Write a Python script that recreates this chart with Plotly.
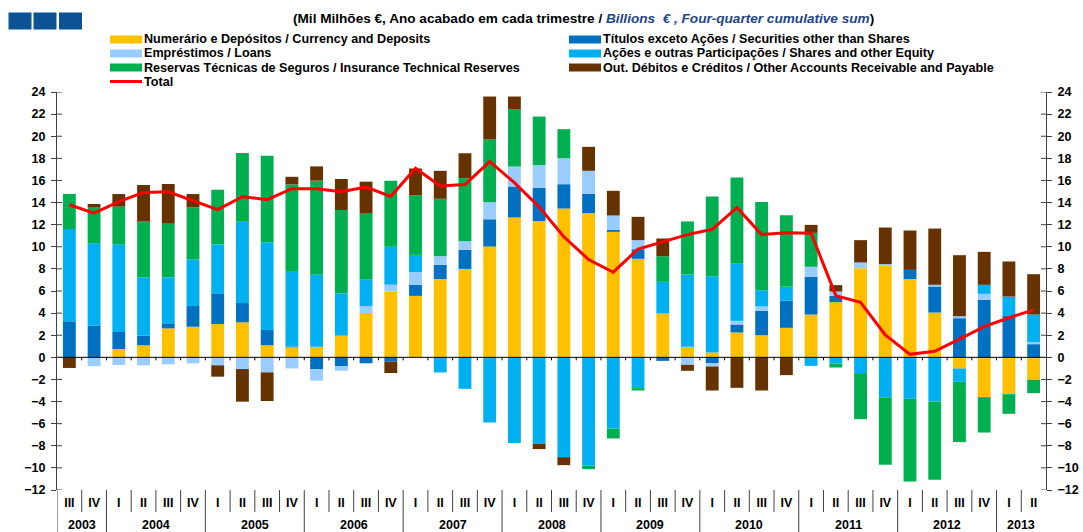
import plotly.graph_objects as go

periods = ["2003 III", "2003 IV",
           "2004 I", "2004 II", "2004 III", "2004 IV",
           "2005 I", "2005 II", "2005 III", "2005 IV",
           "2006 I", "2006 II", "2006 III", "2006 IV",
           "2007 I", "2007 II", "2007 III", "2007 IV",
           "2008 I", "2008 II", "2008 III", "2008 IV",
           "2009 I", "2009 II", "2009 III", "2009 IV",
           "2010 I", "2010 II", "2010 III", "2010 IV",
           "2011 I", "2011 II", "2011 III", "2011 IV",
           "2012 I", "2012 II", "2012 III", "2012 IV",
           "2013 I", "2013 II"]
quarter_labels = [p.split(" ")[1] for p in periods]
year_of_period = [p.split(" ")[0] for p in periods]
year_labels = ["2003", "2004", "2005", "2006", "2007", "2008", "2009", "2010", "2011", "2012", "2013"]

currency = [0, 0, 0.75, 1.09, 2.62, 2.77, 3.01, 3.17, 1.09, 0.9,
            0.96, 1.96, 4.01, 5.94, 5.56, 7.07, 8.0, 10.02, 12.65, 12.32,
            13.46, 13.04, 11.35, 8.91, 3.96, 0.95, 0.44, 2.25, 2.0, 2.67,
            3.87, 4.99, 8.06, 8.28, 7.07, 4.05, -1.01, -3.6, -3.33, -2.03]
securities = [3.26, 2.86, 1.54, 0.87, 0.46, 1.87, 2.78, 1.74, 1.38, 0.05,
              -1.06, -0.81, -0.54, -0.39, 1.0, 1.3, 1.72, 2.47, 2.8, 3.01,
              2.2, 1.75, 0.18, 0.87, -0.32, 0, -0.53, 0.72, 2.21, 2.44,
              3.41, 0.57, 0, 0, 0.84, 2.36, 3.54, 5.2, 3.75, 1.19]
loans = [0, -0.8, -0.69, -0.72, -0.63, -0.54, -0.72, -1.06, -1.36, -1.0,
         -1.05, -0.4, 0.63, 0.63, 1.15, 0.78, 0.78, 1.54, 1.81, 2.05,
         2.35, 2.08, 1.3, 0.82, 0, -0.68, -0.3, 0.33, 0.39, 0,
         0.91, 0.39, 0.52, 0.15, 0, 0.15, 0.18, 0.54, 0, 0.18]
shares = [8.35, 7.45, 7.93, 5.28, 4.16, 4.22, 4.43, 7.36, 7.93, 6.85,
          6.52, 3.83, 2.41, 3.44, 1.56, -1.37, -2.85, -5.89, -7.76, -7.82,
          -9.03, -9.81, -6.44, -2.79, 2.87, 6.54, 6.9, 5.16, 1.47, 1.27,
          -0.77, -0.56, -1.43, -3.6, -3.75, -3.99, -1.2, 0.82, 1.75, 2.5]
insurance = [3.17, 3.23, 3.41, 5.09, 4.85, 4.71, 4.94, 6.21, 7.84, 7.84,
             8.5, 7.54, 6.0, 5.97, 5.4, 5.19, 5.7, 5.67, 5.19, 4.4,
             2.63, -0.3, -0.9, -0.21, 2.32, 4.8, 7.21, 7.81, 7.99, 6.48,
             3.07, -0.36, -4.16, -6.12, -7.48, -7.09, -5.46, -3.2, -1.78, -1.21]
other = [-0.96, 0.33, 1.14, 3.26, 3.59, 1.2, -1.03, -2.95, -2.59, 0.69,
         1.29, 2.8, 2.84, -1.03, 2.41, 2.53, 2.26, 3.89, 1.14, -0.48,
         -0.72, 2.17, 2.23, 2.11, 1.6, -0.54, -2.17, -2.76, -3.0, -1.61,
         0.72, 0.58, 2.02, 3.31, 3.56, 5.09, 5.52, 2.98, 3.17, 3.65]
total = [13.8, 13.05, 14.08, 14.92, 14.98, 14.2, 13.36, 14.53, 14.26, 15.25,
         15.25, 14.98, 15.4, 14.56, 17.1, 15.5, 15.63, 17.71, 15.8, 13.6,
         10.9, 8.85, 7.7, 9.8, 10.45, 11.1, 11.58, 13.55, 11.1, 11.27,
         11.22, 5.58, 4.98, 2.03, 0.27, 0.55, 1.65, 2.77, 3.58, 4.29]
y_ticks = list(range(-12, 25, 2))

series = [
    ("Numerário e Depósitos / Currency and Deposits", currency, "#FFC000"),
    ("Títulos exceto Ações / Securities other than Shares", securities, "#0070C0"),
    ("Empréstimos / Loans", loans, "#99CCFF"),
    ("Ações e outras Participações / Shares and other Equity", shares, "#00B0F0"),
    ("Reservas Técnicas de Seguros / Insurance Technical Reserves", insurance, "#00B050"),
    ("Out. Débitos e Créditos / Other Accounts Receivable and Payable", other, "#663300"),
]
total_name = "Total"
total_color = "#FF0000"

W, H = 1083, 532
L, R, T, B = 57, 37, 92, 42
PW, PH = W - L - R, H - T - B


def px_x(px):
    return (px - L) / PW


def px_y(py):
    return (H - B - py) / PH


FONT = "Liberation Sans"
AXC = "#404040"

fig = go.Figure()
for name, vals, col in series:
    fig.add_bar(x=periods, y=vals, name=name, marker=dict(color=col, line=dict(width=0)),
                width=0.52, showlegend=False)
fig.add_scatter(x=periods, y=total, name=total_name, mode="lines",
                line=dict(color=total_color, width=3), yaxis="y2", showlegend=False)

shapes = []
annotations = []

# header blue squares
for x0, x1 in [(8.5, 31.5), (33.5, 56.5), (59, 82)]:
    shapes.append(dict(type="rect", xref="paper", yref="paper",
                       x0=px_x(x0), x1=px_x(x1), y0=px_y(29.5), y1=px_y(12.5),
                       fillcolor="#0B5394", line=dict(width=0), layer="above"))

# title
annotations.append(dict(
    xref="paper", yref="paper", x=px_x(583), y=px_y(18.5), xanchor="center", yanchor="middle",
    showarrow=False, font=dict(family=FONT, size=13.6, color="black"),
    text="<b>(Mil Milhões €, Ano acabado em cada trimestre / </b>"
         "<b><i><span style='color:#1C4587'>Billions  € , Four-quarter cumulative sum</span></i></b>"
         "<b>)</b>"))

# custom legend
rows = [39.5, 53.5, 67.5, 81.5]
legend_items = [
    (series[0][0], series[0][2], 110, rows[0], "rect"),
    (series[2][0], series[2][2], 110, rows[1], "rect"),
    (series[4][0], series[4][2], 110, rows[2], "rect"),
    (total_name, total_color, 110, rows[3], "line"),
    (series[1][0], series[1][2], 569, rows[0], "rect"),
    (series[3][0], series[3][2], 569, rows[1], "rect"),
    (series[5][0], series[5][2], 569, rows[2], "rect"),
]
for name, col, sx, sy, kind in legend_items:
    if kind == "rect":
        shapes.append(dict(type="rect", xref="paper", yref="paper",
                           x0=px_x(sx), x1=px_x(sx + 32), y0=px_y(sy + 4), y1=px_y(sy - 4),
                           fillcolor=col, line=dict(width=0), layer="above"))
    else:
        shapes.append(dict(type="line", xref="paper", yref="paper",
                           x0=px_x(sx), x1=px_x(sx + 32), y0=px_y(sy), y1=px_y(sy),
                           line=dict(color=col, width=3), layer="above"))
    annotations.append(dict(xref="paper", yref="paper", x=px_x(sx + 32), y=px_y(sy),
                            xanchor="left", yanchor="middle", showarrow=False,
                            font=dict(family=FONT, size=12.6, color="black"),
                            text="<b>" + name + "</b>"))

# zero line
shapes.append(dict(type="line", xref="paper", yref="y", x0=0, x1=1, y0=0, y1=0,
                   line=dict(color="black", width=1), layer="above"))
# small ticks on zero line between categories
for i in range(len(periods) - 1):
    shapes.append(dict(type="line", xref="x", yref="y", ysizemode="pixel", yanchor=0,
                       x0=i + 0.5, x1=i + 0.5, y0=0, y1=-3,
                       line=dict(color="black", width=1), layer="above"))

# inner halves of the cross-shaped y ticks
for v in y_ticks:
    shapes.append(dict(type="line", xref="paper", yref="y", xsizemode="pixel", xanchor=0,
                       x0=0, x1=5, y0=v, y1=v, line=dict(color=AXC, width=1)))
    shapes.append(dict(type="line", xref="paper", yref="y", xsizemode="pixel", xanchor=1,
                       x0=-5, x1=0, y0=v, y1=v, line=dict(color=AXC, width=1)))

# category separators below the plot
for i in range(len(periods)):
    new_year = (i == 0) or (year_of_period[i] != year_of_period[i - 1])
    y1 = px_y(532) if new_year else px_y(512)
    shapes.append(dict(type="line", xref="x", yref="paper", x0=i - 0.5, x1=i - 0.5,
                       y0=0, y1=y1, line=dict(color=AXC, width=1)))

# year labels centred under their quarters
for yl in year_labels:
    idx = [i for i, y in enumerate(year_of_period) if y == yl]
    annotations.append(dict(xref="x", yref="paper", x=(idx[0] + idx[-1]) / 2, y=px_y(525),
                            xanchor="center", yanchor="middle", showarrow=False,
                            font=dict(family=FONT, size=12.5, color="black"),
                            text="<b>" + yl + "</b>"))

tickfont = dict(family=FONT, size=12.5, color="black", weight="bold")
yax = dict(range=[-12, 24], tickmode="array", tickvals=y_ticks, ticks="outside", ticklen=5,
           tickcolor=AXC, showline=True, linecolor=AXC, linewidth=1, showgrid=False,
           zeroline=False, tickfont=tickfont, fixedrange=True)

fig.update_layout(
    width=W, height=H,
    margin=dict(l=L, r=R, t=T, b=B, autoexpand=False),
    paper_bgcolor="white", plot_bgcolor="white",
    barmode="relative",
    showlegend=False,
    hovermode=False,
    xaxis=dict(type="category", range=[-0.5, len(periods) - 0.5], tickmode="array",
               tickvals=periods, ticktext=quarter_labels, ticks="", showline=False,
               showgrid=False, zeroline=False, tickfont=tickfont, ticklabelstandoff=3,
               fixedrange=True),
    yaxis=dict(**yax, ticklabelstandoff=3),
    yaxis2=dict(**yax, overlaying="y", side="right", ticklabelstandoff=3),
    shapes=shapes,
    annotations=annotations,
)

fig.write_html("out.html",
               config={"displayModeBar": False, "staticPlot": True},
               post_script="document.body.style.margin='0px';document.body.style.padding='0px';"
                           "document.body.style.overflow='hidden';")
